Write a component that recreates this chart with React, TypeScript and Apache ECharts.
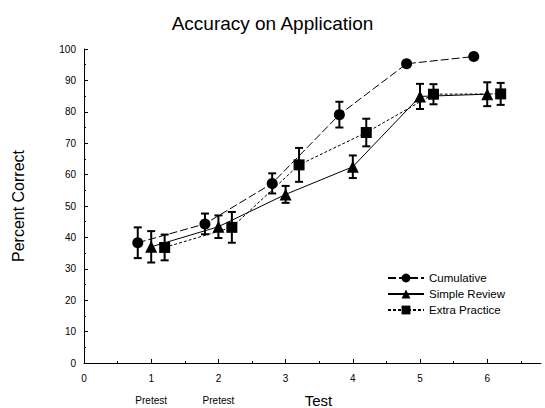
import React, { useEffect, useRef } from "react";
import * as echarts from "echarts";

const tests = [1, 2, 3, 4, 5, 6];
const seriesNames = ["Cumulative", "Simple Review", "Extra Practice"];
const offsets = [-0.2, 0, 0.2];
const cumulative = [38.3, 44.3, 57.2, 79.1, 95.3, 97.6];
const cumulativeErr = [4.9, 3.3, 3.2, 4.1, 0, 0];
const simpleReview = [37.0, 43.4, 53.7, 62.5, 84.9, 85.6];
const simpleReviewErr = [5.0, 3.6, 2.7, 3.6, 4.0, 3.8];
const extraPractice = [36.8, 43.2, 63.1, 73.4, 85.6, 85.7];
const extraPracticeErr = [4.1, 4.9, 5.4, 4.4, 3.2, 3.5];
const xLabels = [0, 1, 2, 3, 4, 5, 6];
const xMinorTicks = [0.5, 1.5, 2.5, 3.5, 4.5, 5.5, 6.5];
const pretestTests = [1, 2];

const FONT = "Liberation Sans, Arial, sans-serif";

export default function App() {
  const ref = useRef<HTMLDivElement>(null);
  useEffect(() => {
    if (!ref.current) return;
    document.body.style.margin = "0";
    const chart = echarts.init(ref.current, null, { renderer: "svg" });
    const values = [cumulative, simpleReview, extraPractice];
    const errs = [cumulativeErr, simpleReviewErr, extraPracticeErr];
    const symbols = ["circle", "triangle", "rect"];
    const dashes: any[] = [[8, 3], "solid", [3, 2]];

    const lineSeries = seriesNames.map((name, i) => ({
      name,
      type: "line",
      data: tests.map((t, k) => [t + offsets[i], values[i][k]]),
      symbol: symbols[i],
      symbolSize: i === 1 ? 12 : 11,
      lineStyle: { color: "#000", width: 1, type: dashes[i] },
      itemStyle: { color: "#000" },
      z: 3,
    }));

    const errSeries = seriesNames.map((name, i) => ({
      name: name + " err",
      type: "custom",
      data: tests
        .map((t, k) => [t + offsets[i], values[i][k], errs[i][k]])
        .filter((d) => d[2] > 0),
      renderItem: (params: any, api: any) => {
        const x = api.value(0);
        const v = api.value(1);
        const e = api.value(2);
        const top = api.coord([x, v + e]);
        const bot = api.coord([x, v - e]);
        const hw = 4;
        const st = { stroke: "#000", lineWidth: 2 };
        return {
          type: "group",
          children: [
            { type: "line", shape: { x1: top[0], y1: top[1], x2: bot[0], y2: bot[1] }, style: st },
            { type: "line", shape: { x1: top[0] - hw, y1: top[1], x2: top[0] + hw, y2: top[1] }, style: st },
            { type: "line", shape: { x1: bot[0] - hw, y1: bot[1], x2: bot[0] + hw, y2: bot[1] }, style: st },
          ],
        };
      },
      z: 2,
    }));

    chart.setOption({
      animation: false,
      backgroundColor: "#fff",
      textStyle: { fontFamily: FONT, color: "#000" },
      title: {
        text: "Accuracy on Application",
        left: "center",
        top: 9,
        textStyle: { fontFamily: FONT, fontSize: 19, fontWeight: "normal", color: "#000" },
      },
      legend: {
        data: seriesNames,
        orient: "vertical",
        left: 382,
        top: 267,
        itemWidth: 36,
        itemHeight: 11,
        itemGap: 4,
        textStyle: { fontFamily: FONT, fontSize: 11.5, color: "#000" },
      },
      grid: { left: 84, right: 4, top: 49, bottom: 45, outerBoundsMode: "none", containLabel: false },
      xAxis: [
        {
          type: "value",
          min: 0,
          max: 6.8,
          interval: 1,
          name: "Test",
          nameLocation: "middle",
          nameGap: 30,
          nameTextStyle: { fontFamily: FONT, fontSize: 15, color: "#000", padding: [0, 0, 0, 12] },
          axisLine: { show: true, onZero: false, lineStyle: { color: "#000", width: 1 } },
          axisTick: { show: true, inside: true, length: 4, customValues: xLabels, lineStyle: { color: "#000" } },
          axisLabel: { customValues: xLabels, fontSize: 10, color: "#000", margin: 10, fontFamily: FONT },
          splitLine: { show: false },
        },
        {
          type: "value",
          min: 0,
          max: 6.8,
          position: "bottom",
          axisLine: { show: false },
          axisTick: { show: true, inside: true, length: 2, customValues: xMinorTicks, lineStyle: { color: "#000" } },
          axisLabel: { show: false },
          splitLine: { show: false },
        },
        {
          type: "value",
          min: 0,
          max: 6.8,
          position: "bottom",
          offset: 24,
          axisLine: { show: false },
          axisTick: { show: false },
          axisLabel: {
            customValues: pretestTests,
            formatter: () => "Pretest",
            fontSize: 10,
            color: "#000",
            margin: 8,
            fontFamily: FONT,
          },
          splitLine: { show: false },
        },
      ],
      yAxis: {
        type: "value",
        min: 0,
        max: 100,
        interval: 10,
        name: "Percent Correct",
        nameLocation: "middle",
        nameGap: 58,
        nameTextStyle: { fontFamily: FONT, fontSize: 16, color: "#000" },
        axisLine: { show: true, lineStyle: { color: "#000", width: 1 } },
        axisTick: { show: true, inside: true, length: 4, lineStyle: { color: "#000" } },
        minorTick: { show: true, splitNumber: 2, length: 2, lineStyle: { color: "#000" } },
        axisLabel: { fontSize: 10, color: "#000", margin: 8, fontFamily: FONT },
        splitLine: { show: false },
      },
      series: [...errSeries, ...lineSeries],
    });
    return () => chart.dispose();
  }, []);
  return <div ref={ref} style={{ width: 545, height: 408 }} />;
}
